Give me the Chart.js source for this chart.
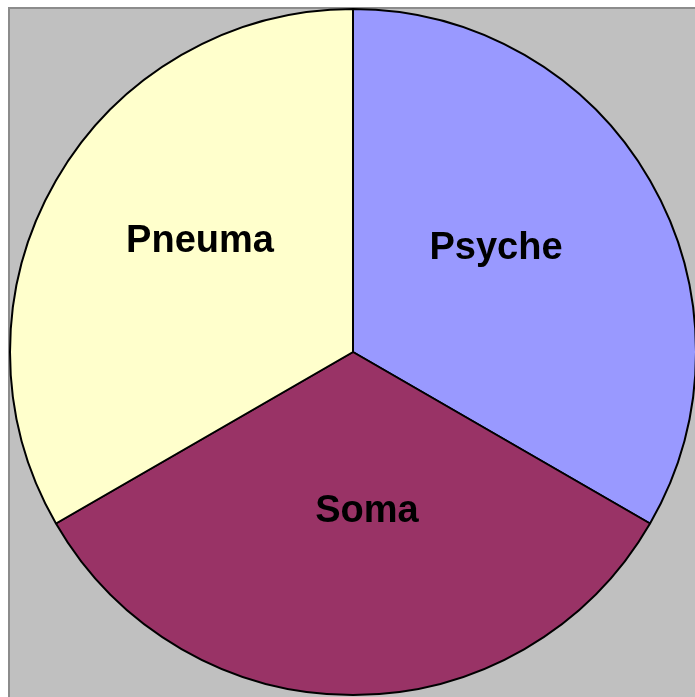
<!DOCTYPE html>
<html lang="en">
<head>
  <meta charset="UTF-8">
  <title>Psyche / Soma / Pneuma</title>
  <script src="https://cdn.jsdelivr.net/npm/chart.js"></script>
  <style>
    html, body { margin: 0; padding: 0; background: #fff; overflow: hidden; width: 695px; height: 697px; }
    #plot { position: absolute; left: 8px; top: 7px; width: 700px; height: 700px;
            background: #c0c0c0; border-left: 2px solid #8c8c8c; border-top: 2px solid #8c8c8c; box-sizing: border-box; }
    #pieChart { position: absolute; left: 9px; top: 8px; }
  </style>
</head>
<body>
  <div id="plot"></div>
  <canvas id="pieChart" width="688" height="688"></canvas>

  <script>
    // data
    const labels = ['Psyche', 'Soma', 'Pneuma'];
    const values = [1, 1, 1];
    const colors = ['#9999ff', '#993366', '#ffffcc'];

    // nudges so the labels sit where the original put them
    const labelShift = [[-10, -15], [14, -17], [0, -22]];

    const sliceLabels = {
      id: 'sliceLabels',
      afterDatasetsDraw(chart) {
        const ctx = chart.ctx;
        const arcs = chart.getDatasetMeta(0).data;
        ctx.save();
        ctx.font = 'bold 38px "Liberation Sans", Arial, sans-serif';
        ctx.fillStyle = '#000';
        ctx.textAlign = 'center';
        ctx.textBaseline = 'middle';
        arcs.forEach((arc, i) => {
          const p = arc.getProps(['x', 'y', 'startAngle', 'endAngle', 'outerRadius'], true);
          const mid = (p.startAngle + p.endAngle) / 2;
          const r = p.outerRadius * 0.515;
          const x = p.x + Math.cos(mid) * r + labelShift[i][0];
          const y = p.y + Math.sin(mid) * r + labelShift[i][1];
          ctx.fillText(chart.data.labels[i], x, y);
        });
        ctx.restore();
      }
    };

    new Chart(document.getElementById('pieChart'), {
      type: 'pie',
      data: {
        labels: labels,
        datasets: [{
          data: values,
          backgroundColor: colors,
          borderColor: '#000',
          borderWidth: 2
        }]
      },
      options: {
        responsive: false,
        animation: false,
        layout: { padding: 0 },
        plugins: {
          legend: { display: false },
          tooltip: { enabled: false }
        }
      },
      plugins: [sliceLabels]
    });
  </script>
</body>
</html>
